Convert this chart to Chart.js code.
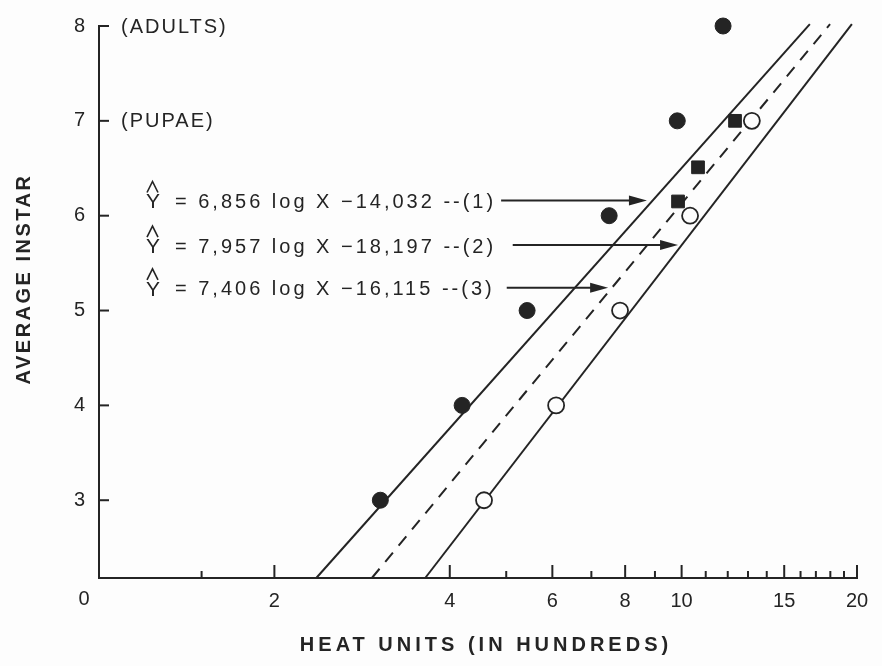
<!DOCTYPE html>
<html>
<head>
<meta charset="utf-8">
<script src="https://cdn.jsdelivr.net/npm/chart.js@4.4.1/dist/chart.umd.min.js"></script>
<style>
  html, body { margin: 0; padding: 0; background: #fdfdfd; }
  canvas { display: block; }
</style>
</head>
<body>
<canvas id="instarChart" width="882" height="666"></canvas>
<script>
// observed points (x = heat units in hundreds, y = average instar)
const filledX = [3.04, 4.20, 5.43, 7.51, 9.83, 11.78];
const filledY = [3, 4, 5, 6, 7, 8];
const openX = [4.58, 6.09, 7.84, 10.34, 13.2];
const openY = [3, 4, 5, 6, 7];
const squareX = [9.86, 10.67, 12.35];
const squareY = [6.15, 6.51, 7.0];

// fitted lines, endpoints
const line1X = [2.36, 16.6];
const line1Y = [2.18, 8.02];
const line2X = [3.63, 19.6];
const line2Y = [2.18, 8.02];
const line3X = [2.94, 17.98];
const line3Y = [2.18, 8.02];

// equation labels and their arrows
const eqText = ['= 6,856 log X \u221214,032 --(1)', '= 7,957 log X \u221218,197 --(2)', '= 7,406 log X \u221216,115 --(3)'];
const arrowY = [6.16, 5.69, 5.24];
const arrowStartX = [4.90, 5.13, 5.01];
const arrowTipX = [8.72, 9.86, 7.48];

// axis ticks
const xTicks = [1, 1.5, 2, 4, 5, 6, 7, 8, 9, 10, 11, 12, 13, 14, 15, 16, 17, 18, 19, 20];
const xMajor = [2, 4, 6, 8, 10, 15, 20];
const yTicks = [3, 4, 5, 6, 7, 8];
const stageLabels = { 8: '(ADULTS)', 7: '(PUPAE)' };

const ink = '#242424';
const pts = (xs, ys) => xs.map((v, i) => ({ x: v, y: ys[i] }));

Chart.defaults.font.family = "'Liberation Sans', Arial, sans-serif";
Chart.defaults.color = ink;

const decor = {
  id: 'decor',
  afterDraw(chart) {
    const { ctx, chartArea: a, scales: { x, y } } = chart;
    ctx.save();
    ctx.strokeStyle = ink;
    ctx.fillStyle = ink;
    ctx.lineWidth = 2;

    // inward tick marks
    xTicks.forEach(v => {
      if (v === 1) return;
      const px = x.getPixelForValue(v);
      const len = xMajor.includes(v) ? 13 : 7;
      ctx.beginPath(); ctx.moveTo(px, a.bottom); ctx.lineTo(px, a.bottom - len); ctx.stroke();
    });
    yTicks.forEach(v => {
      const py = y.getPixelForValue(v);
      ctx.beginPath(); ctx.moveTo(a.left, py); ctx.lineTo(a.left + 10, py); ctx.stroke();
    });

    // origin label
    ctx.font = "20px 'Liberation Sans', Arial";
    ctx.textAlign = 'center'; ctx.textBaseline = 'middle';
    ctx.fillText('0', a.left - 15, 599);

    // stage labels
    ctx.textAlign = 'left';
    ctx.letterSpacing = '2px';
    Object.keys(stageLabels).forEach(k => {
      ctx.fillText(stageLabels[k], a.left + 22, y.getPixelForValue(+k) + 1);
    });

    // equations + arrows
    ctx.letterSpacing = '3px';
    eqText.forEach((t, i) => {
      const py = y.getPixelForValue(arrowY[i]);
      const x0 = x.getPixelForValue(arrowStartX[i]);
      const x1 = x.getPixelForValue(arrowTipX[i]);
      ctx.textAlign = 'left';
      ctx.font = "21px 'Liberation Sans', Arial";
      ctx.fillText('Y', 146, py + 2);
      ctx.font = "20px 'Liberation Sans', Arial";
      ctx.fillText(t, 175, py + 2);
      // hat
      ctx.lineWidth = 1.6;
      ctx.beginPath();
      ctx.moveTo(147, py - 8); ctx.lineTo(152.5, py - 19); ctx.lineTo(158, py - 8);
      ctx.stroke();
      // arrow
      ctx.lineWidth = 2;
      ctx.beginPath(); ctx.moveTo(x0, py); ctx.lineTo(x1 - 12, py); ctx.stroke();
      ctx.beginPath();
      ctx.moveTo(x1, py); ctx.lineTo(x1 - 18, py - 5); ctx.lineTo(x1 - 18, py + 5); ctx.closePath();
      ctx.fill();
    });

    // axis titles
    ctx.font = "bold 20px 'Liberation Sans', Arial";
    ctx.letterSpacing = '4px';
    ctx.textAlign = 'center';
    ctx.fillText('HEAT UNITS (IN HUNDREDS)', 486, 645);
    ctx.save();
    ctx.translate(24, 279);
    ctx.rotate(-Math.PI / 2);
    ctx.letterSpacing = '2.5px';
    ctx.fillText('AVERAGE INSTAR', 0, 0);
    ctx.restore();

    ctx.restore();
  }
};

const lineStyle = { showLine: true, pointRadius: 0, borderColor: ink, borderWidth: 2, clip: false, order: 2 };

new Chart(document.getElementById('instarChart').getContext('2d'), {
  type: 'scatter',
  data: {
    datasets: [
      { label: 'line 1', data: pts(line1X, line1Y), ...lineStyle },
      { label: 'line 2', data: pts(line2X, line2Y), ...lineStyle },
      { label: 'line 3', data: pts(line3X, line3Y), ...lineStyle, borderDash: [12, 9] },
      { label: 'filled', data: pts(filledX, filledY), order: 1, pointRadius: 8, pointBackgroundColor: ink, pointBorderColor: ink, clip: false },
      { label: 'open', data: pts(openX, openY), order: 1, pointRadius: 8, pointBackgroundColor: '#fdfdfd', pointBorderColor: ink, pointBorderWidth: 1.8, clip: false },
      { label: 'square', data: pts(squareX, squareY), order: 1, pointStyle: 'rect', pointRadius: 9, pointBackgroundColor: ink, pointBorderColor: ink, clip: false }
    ]
  },
  options: {
    responsive: false,
    animation: false,
    layout: { padding: { top: 20, right: 25, left: 0, bottom: 0 } },
    plugins: { legend: { display: false }, tooltip: { enabled: false } },
    scales: {
      x: {
        type: 'logarithmic',
        min: 1,
        max: 20,
        afterBuildTicks: s => { s.ticks = xTicks.map(v => ({ value: v })); },
        afterFit: s => { s.height = 88; },
        grid: { display: false, drawTicks: false },
        border: { display: true, color: ink, width: 2 },
        ticks: {
          autoSkip: false, maxRotation: 0, padding: 11,
          font: { size: 20 }, color: ink,
          callback: v => xMajor.includes(v) ? String(v) : ''
        }
      },
      y: {
        min: 2.18,
        max: 8,
        afterBuildTicks: s => { s.ticks = yTicks.map(v => ({ value: v })); },
        afterFit: s => { s.width = 99; },
        grid: { display: false, drawTicks: false },
        border: { display: true, color: ink, width: 2 },
        ticks: { padding: 14, font: { size: 20 }, color: ink }
      }
    }
  },
  plugins: [decor]
});
</script>
</body>
</html>
